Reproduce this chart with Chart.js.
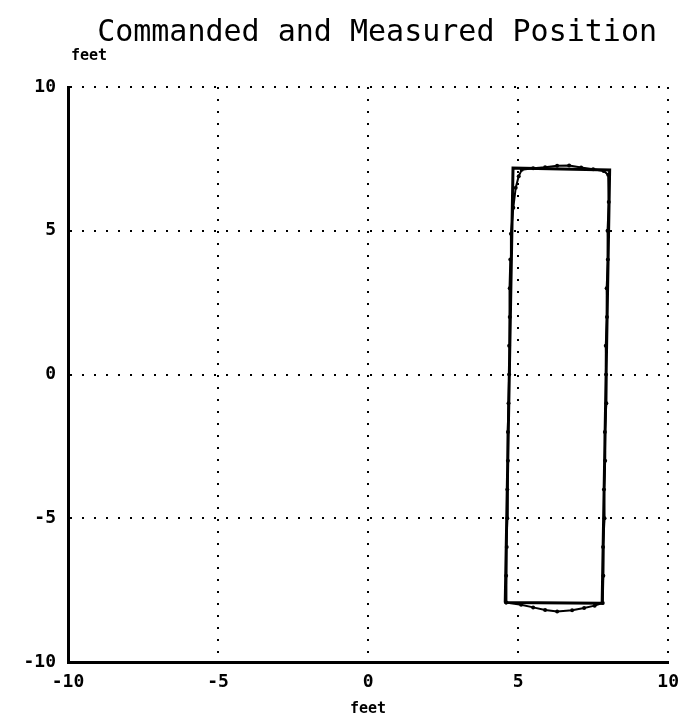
<!DOCTYPE html>
<html lang="en">
<head>
    <meta charset="UTF-8" />
    <title>Commanded and Measured Position</title>
    <script src="https://cdn.jsdelivr.net/npm/chart.js"></script>
    <style>
        * { margin: 0; padding: 0; box-sizing: border-box; }
        body { background: #fff; width: 689px; height: 720px; overflow: hidden; }
        #wrap { width: 689px; height: 720px; position: relative; }
    </style>
</head>
<body>
<div id="wrap"><canvas id="posChart"></canvas></div>
<script>
    // axis ticks (feet)
    const tickValues = [-10, -5, 0, 5, 10];

    // commanded path (rectangle corners, feet)
    const commandedX = [4.57, 4.83, 8.05, 7.80, 4.57];
    const commandedY = [-7.93, 7.18, 7.11, -7.96, -7.93];

    // measured path (feet)
    const measuredX = [4.60, 4.60, 4.62, 4.64, 4.64, 4.66, 4.66, 4.68, 4.70, 4.70, 4.72, 4.72, 4.74, 4.76,
        4.84, 4.92, 5.02, 5.12,
        5.50, 5.90, 6.30, 6.70, 7.10, 7.50, 7.85, 8.00,
        8.02, 7.98, 7.99, 7.95, 7.96, 7.92, 7.93, 7.94, 7.89, 7.90, 7.86, 7.88, 7.83, 7.84, 7.82,
        7.55, 7.20, 6.80, 6.30, 5.90, 5.50, 5.10, 4.60];
    const measuredY = [-7.93, -7.0, -6.0, -5.0, -4.0, -3.0, -2.0, -1.0, 0.0, 1.0, 2.0, 3.0, 4.0, 4.9,
        5.8, 6.5, 6.9, 7.12,
        7.17, 7.21, 7.26, 7.27, 7.20, 7.14, 7.08, 6.95,
        6.0, 5.0, 4.0, 3.0, 2.0, 1.0, 0.0, -1.0, -2.0, -3.0, -4.0, -5.0, -6.0, -7.0, -7.95,
        -8.04, -8.12, -8.20, -8.24, -8.19, -8.10, -8.01, -7.93];

    const toPoints = (xs, ys) => xs.map((x, i) => ({ x: x, y: ys[i] }));

    const monoFont = '"DejaVu Sans Mono", monospace';

    // title and top "feet" label drawn above the plot
    const headerText = {
        id: 'headerText',
        afterDraw(chart) {
            const c = chart.ctx;
            const area = chart.chartArea;
            c.save();
            c.fillStyle = '#000';
            c.textAlign = 'center';
            c.textBaseline = 'alphabetic';
            c.font = '30px ' + monoFont;
            c.fillText('Commanded and Measured Position', (area.left + area.right) / 2 + 9, 41);
            c.textAlign = 'left';
            c.font = 'bold 15px ' + monoFont;
            c.fillText('feet', 71, 60);
            c.restore();
        }
    };

    const ctx = document.getElementById('posChart').getContext('2d');
    const posChart = new Chart(ctx, {
        type: 'scatter',
        data: {
            datasets: [
                {
                    label: 'Commanded',
                    data: toPoints(commandedX, commandedY),
                    showLine: true,
                    borderColor: '#000',
                    borderWidth: 3,
                    pointRadius: 0,
                    tension: 0
                },
                {
                    label: 'Measured',
                    data: toPoints(measuredX, measuredY),
                    showLine: true,
                    borderColor: '#000',
                    backgroundColor: '#000',
                    borderWidth: 2,
                    pointRadius: 2,
                    pointBorderWidth: 0,
                    tension: 0
                }
            ]
        },
        options: {
            responsive: true,
            maintainAspectRatio: false,
            animation: false,
            layout: { padding: { top: 87, right: 17, bottom: 0, left: 0 } },
            plugins: {
                legend: { display: false },
                tooltip: { enabled: false },
                title: { display: false }
            },
            scales: {
                x: {
                    type: 'linear',
                    min: -10,
                    max: 10,
                    afterBuildTicks: axis => { axis.ticks = tickValues.map(v => ({ value: v })); },
                    afterFit: axis => { axis.height = 58; },
                    grid: { color: '#000', lineWidth: 2, drawTicks: false },
                    border: { display: true, color: '#000', width: 3, dash: [2, 10] },
                    ticks: {
                        color: '#000',
                        padding: 10,
                        maxRotation: 0,
                        font: { family: monoFont, size: 18, weight: 'bold' }
                    },
                    title: {
                        display: true,
                        text: 'feet',
                        color: '#000',
                        padding: { top: 0, bottom: 2 },
                        font: { family: monoFont, size: 15, weight: 'bold' }
                    }
                },
                y: {
                    type: 'linear',
                    min: -10,
                    max: 10,
                    afterBuildTicks: axis => { axis.ticks = tickValues.map(v => ({ value: v })); },
                    afterFit: axis => { axis.width = 68; },
                    grid: { color: '#000', lineWidth: 2, drawTicks: false },
                    border: { display: true, color: '#000', width: 3, dash: [2, 10] },
                    ticks: {
                        color: '#000',
                        padding: 12,
                        font: { family: monoFont, size: 18, weight: 'bold' }
                    }
                }
            }
        },
        plugins: [headerText]
    });
</script>
</body>
</html>
